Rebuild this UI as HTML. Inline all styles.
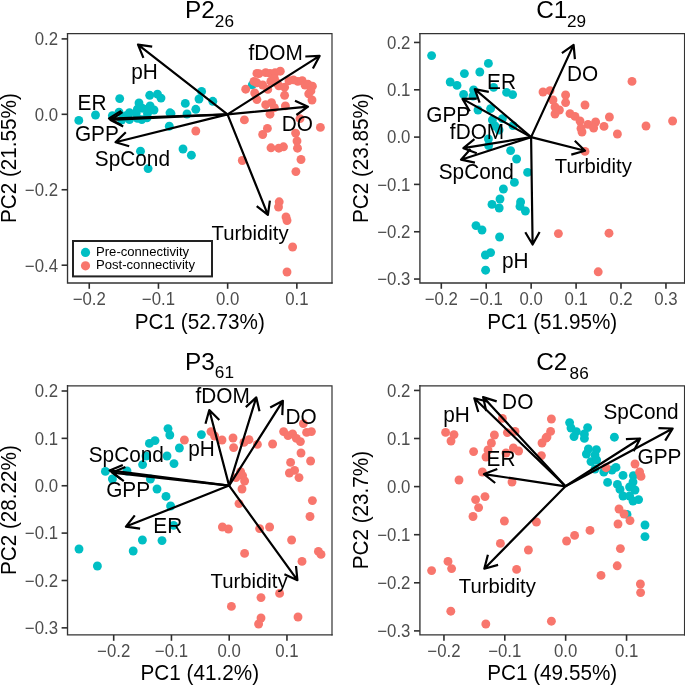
<!DOCTYPE html>
<html><head><meta charset="utf-8"><title>PCA biplots</title>
<style>
html,body{margin:0;padding:0;background:#fff;}
svg{display:block;}
text{font-family:'Liberation Sans', Arial, Helvetica, sans-serif;}
.tk{font-size:16.8px;fill:#4D4D4D;}
.ax{font-size:20.7px;fill:#000;}
.lb{font-size:20.8px;fill:#000;text-anchor:middle;}
.tt{font-size:24.4px;fill:#000;}
.lg{font-size:13.1px;fill:#000;}
</style></head><body>
<svg width="685" height="685" viewBox="0 0 685 685">
<rect width="685" height="685" fill="#fff"/>
<g id="p1">
<clipPath id="cp1"><rect x="67.53" y="33.55" width="264.47" height="249.39999999999998"/></clipPath>
<g clip-path="url(#cp1)">
<g fill="#00BFC4"><circle cx="78.8" cy="120.4" r="4.45"/><circle cx="95.5" cy="115.0" r="4.45"/><circle cx="119.7" cy="98.6" r="4.45"/><circle cx="149.7" cy="95.3" r="4.45"/><circle cx="157.5" cy="94.2" r="4.45"/><circle cx="161.0" cy="98.1" r="4.45"/><circle cx="139.0" cy="103.0" r="4.45"/><circle cx="150.1" cy="106.0" r="4.45"/><circle cx="154.0" cy="110.0" r="4.45"/><circle cx="147.0" cy="109.3" r="4.45"/><circle cx="142.2" cy="108.2" r="4.45"/><circle cx="137.4" cy="109.1" r="4.45"/><circle cx="129.5" cy="112.6" r="4.45"/><circle cx="136.1" cy="113.2" r="4.45"/><circle cx="147.5" cy="113.5" r="4.45"/><circle cx="119.0" cy="112.1" r="4.45"/><circle cx="112.4" cy="115.6" r="4.45"/><circle cx="121.6" cy="120.0" r="4.45"/><circle cx="129.5" cy="119.6" r="4.45"/><circle cx="137.4" cy="118.3" r="4.45"/><circle cx="141.8" cy="119.6" r="4.45"/><circle cx="147.0" cy="117.8" r="4.45"/><circle cx="126.0" cy="115.6" r="4.45"/><circle cx="170.0" cy="112.8" r="4.45"/><circle cx="169.3" cy="126.2" r="4.45"/><circle cx="140.5" cy="151.2" r="4.45"/><circle cx="148.1" cy="168.6" r="4.45"/><circle cx="201.6" cy="91.4" r="4.45"/><circle cx="199.0" cy="99.0" r="4.45"/><circle cx="212.8" cy="101.3" r="4.45"/><circle cx="185.3" cy="103.4" r="4.45"/><circle cx="195.8" cy="109.3" r="4.45"/><circle cx="187.0" cy="114.0" r="4.45"/><circle cx="171.0" cy="113.6" r="4.45"/><circle cx="183.0" cy="149.0" r="4.45"/><circle cx="191.4" cy="155.2" r="4.45"/><circle cx="252.3" cy="84.8" r="4.45"/></g>
<g fill="#F8766D"><circle cx="297.8" cy="81.4" r="4.45"/><circle cx="277.0" cy="83.0" r="4.45"/><circle cx="195.8" cy="131.0" r="4.45"/><circle cx="244.4" cy="119.9" r="4.45"/><circle cx="245.7" cy="89.2" r="4.45"/><circle cx="242.3" cy="160.5" r="4.45"/><circle cx="256.9" cy="73.4" r="4.45"/><circle cx="259.0" cy="73.6" r="4.45"/><circle cx="265.7" cy="72.6" r="4.45"/><circle cx="270.0" cy="73.4" r="4.45"/><circle cx="275.1" cy="72.6" r="4.45"/><circle cx="280.3" cy="71.2" r="4.45"/><circle cx="254.0" cy="81.4" r="4.45"/><circle cx="256.9" cy="82.8" r="4.45"/><circle cx="262.7" cy="85.0" r="4.45"/><circle cx="254.7" cy="93.0" r="4.45"/><circle cx="256.9" cy="99.6" r="4.45"/><circle cx="267.8" cy="89.4" r="4.45"/><circle cx="270.8" cy="81.4" r="4.45"/><circle cx="274.4" cy="78.5" r="4.45"/><circle cx="278.8" cy="85.8" r="4.45"/><circle cx="284.6" cy="87.2" r="4.45"/><circle cx="284.6" cy="95.3" r="4.45"/><circle cx="289.0" cy="80.7" r="4.45"/><circle cx="293.4" cy="79.9" r="4.45"/><circle cx="302.2" cy="80.7" r="4.45"/><circle cx="305.0" cy="85.0" r="4.45"/><circle cx="308.0" cy="84.3" r="4.45"/><circle cx="312.4" cy="86.2" r="4.45"/><circle cx="310.9" cy="90.9" r="4.45"/><circle cx="308.7" cy="93.8" r="4.45"/><circle cx="312.0" cy="100.0" r="4.45"/><circle cx="265.7" cy="104.7" r="4.45"/><circle cx="271.5" cy="102.6" r="4.45"/><circle cx="274.4" cy="107.7" r="4.45"/><circle cx="285.4" cy="105.9" r="4.45"/><circle cx="270.0" cy="114.2" r="4.45"/><circle cx="300.0" cy="118.6" r="4.45"/><circle cx="320.4" cy="127.4" r="4.45"/><circle cx="267.4" cy="128.4" r="4.45"/><circle cx="262.7" cy="134.5" r="4.45"/><circle cx="295.6" cy="133.1" r="4.45"/><circle cx="297.0" cy="141.0" r="4.45"/><circle cx="297.5" cy="148.2" r="4.45"/><circle cx="271.0" cy="147.8" r="4.45"/><circle cx="278.8" cy="148.2" r="4.45"/><circle cx="283.5" cy="146.8" r="4.45"/><circle cx="301.0" cy="159.5" r="4.45"/><circle cx="295.9" cy="171.6" r="4.45"/><circle cx="279.2" cy="201.8" r="4.45"/><circle cx="278.5" cy="207.0" r="4.45"/><circle cx="286.0" cy="216.9" r="4.45"/><circle cx="287.0" cy="220.5" r="4.45"/><circle cx="292.6" cy="247.0" r="4.45"/><circle cx="287.0" cy="272.0" r="4.45"/></g>
<g fill="none" stroke="#000" stroke-width="2.2" stroke-linejoin="round"><path d="M227.5 114.4L138.0 44.6M143.4 57.9L138.0 44.6L152.2 46.6"/><path d="M227.5 114.4L109.0 118.5M121.6 125.2L109.0 118.5L121.1 110.9"/><path d="M227.5 114.4L110.5 120.0M123.2 126.5L110.5 120.0L122.5 112.2"/><path d="M227.5 114.4L115.5 142.3M129.2 146.2L115.5 142.3L125.8 132.3"/><path d="M227.5 114.4L319.6 55.9M305.3 56.5L319.6 55.9L312.9 68.6"/><path d="M227.5 114.4L308.0 106.7M295.0 100.8L308.0 106.7L296.4 115.0"/><path d="M227.5 114.4L267.9 214.9M269.9 200.7L267.9 214.9L256.7 206.1"/></g>
<text class="lb" transform="translate(144.5 78.5) scale(1 1.03)">pH</text><text class="lb" transform="translate(92.0 109.8) scale(1 1.03)">ER</text><text class="lb" transform="translate(96.9 140.8) scale(1 1.03)">GPP</text><text class="lb" transform="translate(132.4 165.6) scale(1 1.03)">SpCond</text><text class="lb" transform="translate(275.6 60.3) scale(1 1.03)">fDOM</text><text class="lb" transform="translate(297.4 130.8) scale(1 1.03)">DO</text><text class="lb" style="font-size:20.3px" transform="translate(250.0 239.5) scale(1 1.03)">Turbidity</text>
</g>
<rect x="73" y="241" width="139" height="35.4" fill="#fff" stroke="#222" stroke-width="2.0"/><circle cx="85.5" cy="252.4" r="4.6" fill="#00BFC4"/><circle cx="85.5" cy="265.8" r="4.6" fill="#F8766D"/><text class="lg" transform="translate(96 255.8) scale(1 1.04)">Pre-connectivity</text><text class="lg" transform="translate(96 269.3) scale(1 1.04)">Post-connectivity</text>
<path d="M67.53 33.55L332.0 33.55L332.0 282.95" fill="none" stroke="#333" stroke-width="1.2" stroke-linejoin="miter" stroke-linecap="square"/>
<path d="M67.53 33.55L67.53 282.95L332.0 282.95" fill="none" stroke="#333" stroke-width="1.35" stroke-linejoin="miter" stroke-linecap="square"/>
<g stroke="#2e2e2e" stroke-width="1.6"><line x1="89.25" y1="282.95" x2="89.25" y2="288.8"/><line x1="158.45" y1="282.95" x2="158.45" y2="288.8"/><line x1="227.65" y1="282.95" x2="227.65" y2="288.8"/><line x1="296.85" y1="282.95" x2="296.85" y2="288.8"/><line x1="61.6" y1="38.90" x2="67.53" y2="38.90"/><line x1="61.6" y1="114.30" x2="67.53" y2="114.30"/><line x1="61.6" y1="189.75" x2="67.53" y2="189.75"/><line x1="61.6" y1="265.20" x2="67.53" y2="265.20"/></g>
<text class="tk" text-anchor="middle" transform="translate(89.25 305.2) scale(1 1.05)">−0.2</text><text class="tk" text-anchor="middle" transform="translate(158.45 305.2) scale(1 1.05)">−0.1</text><text class="tk" text-anchor="middle" transform="translate(227.65 305.2) scale(1 1.05)">0.0</text><text class="tk" text-anchor="middle" transform="translate(296.85 305.2) scale(1 1.05)">0.1</text>
<text class="tk" text-anchor="end" transform="translate(58.0 45.2) scale(1 1.05)">0.2</text><text class="tk" text-anchor="end" transform="translate(58.0 120.6) scale(1 1.05)">0.0</text><text class="tk" text-anchor="end" transform="translate(58.0 196.1) scale(1 1.05)">−0.2</text><text class="tk" text-anchor="end" transform="translate(58.0 271.5) scale(1 1.05)">−0.4</text>
<text class="ax" text-anchor="middle" transform="translate(199.8 328.5) scale(1 1.065)">PC1 (52.73%)</text>
<text class="ax" text-anchor="middle" transform="translate(15.9 158.1) rotate(-90) scale(1 1.065)">PC2 (21.55%)</text>
<text class="tt" transform="translate(185.0 18.3) scale(1 0.965)">P2<tspan style="font-size:17.2px" dx="0" dy="9.2">26</tspan></text>
</g>
<g id="p2">
<clipPath id="cp2"><rect x="419.92" y="33.55" width="264.62999999999994" height="249.39999999999998"/></clipPath>
<g clip-path="url(#cp2)">
<g fill="#00BFC4"><circle cx="431.6" cy="55.6" r="4.45"/><circle cx="488.4" cy="63.4" r="4.45"/><circle cx="464.4" cy="73.6" r="4.45"/><circle cx="479.8" cy="72.0" r="4.45"/><circle cx="450.2" cy="82.0" r="4.45"/><circle cx="457.0" cy="85.4" r="4.45"/><circle cx="493.6" cy="87.4" r="4.45"/><circle cx="506.6" cy="92.4" r="4.45"/><circle cx="512.6" cy="94.6" r="4.45"/><circle cx="473.6" cy="90.0" r="4.45"/><circle cx="463.6" cy="94.4" r="4.45"/><circle cx="473.0" cy="96.0" r="4.45"/><circle cx="478.0" cy="110.0" r="4.45"/><circle cx="490.6" cy="108.6" r="4.45"/><circle cx="502.4" cy="118.6" r="4.45"/><circle cx="492.4" cy="120.0" r="4.45"/><circle cx="495.0" cy="126.0" r="4.45"/><circle cx="499.0" cy="130.0" r="4.45"/><circle cx="513.0" cy="125.6" r="4.45"/><circle cx="488.4" cy="139.0" r="4.45"/><circle cx="488.6" cy="145.6" r="4.45"/><circle cx="510.6" cy="150.6" r="4.45"/><circle cx="516.6" cy="159.0" r="4.45"/><circle cx="527.6" cy="172.4" r="4.45"/><circle cx="514.4" cy="182.4" r="4.45"/><circle cx="503.4" cy="189.0" r="4.45"/><circle cx="500.0" cy="199.0" r="4.45"/><circle cx="492.0" cy="204.4" r="4.45"/><circle cx="499.2" cy="208.0" r="4.45"/><circle cx="520.6" cy="202.0" r="4.45"/><circle cx="520.0" cy="206.4" r="4.45"/><circle cx="525.4" cy="211.0" r="4.45"/><circle cx="476.0" cy="225.6" r="4.45"/><circle cx="482.0" cy="230.0" r="4.45"/><circle cx="499.6" cy="237.0" r="4.45"/><circle cx="490.6" cy="252.6" r="4.45"/><circle cx="485.4" cy="255.0" r="4.45"/><circle cx="485.6" cy="270.2" r="4.45"/></g>
<g fill="#F8766D"><circle cx="543.0" cy="92.0" r="4.45"/><circle cx="632.0" cy="81.4" r="4.45"/><circle cx="550.0" cy="90.6" r="4.45"/><circle cx="565.6" cy="95.0" r="4.45"/><circle cx="553.0" cy="100.0" r="4.45"/><circle cx="565.6" cy="102.6" r="4.45"/><circle cx="585.0" cy="105.0" r="4.45"/><circle cx="555.0" cy="107.0" r="4.45"/><circle cx="559.4" cy="110.0" r="4.45"/><circle cx="555.0" cy="114.0" r="4.45"/><circle cx="570.0" cy="113.6" r="4.45"/><circle cx="575.0" cy="116.4" r="4.45"/><circle cx="580.0" cy="121.0" r="4.45"/><circle cx="609.4" cy="117.0" r="4.45"/><circle cx="595.6" cy="122.0" r="4.45"/><circle cx="588.0" cy="124.4" r="4.45"/><circle cx="604.0" cy="126.4" r="4.45"/><circle cx="593.6" cy="128.0" r="4.45"/><circle cx="581.0" cy="128.4" r="4.45"/><circle cx="582.0" cy="132.0" r="4.45"/><circle cx="617.4" cy="134.0" r="4.45"/><circle cx="646.0" cy="126.0" r="4.45"/><circle cx="672.6" cy="121.0" r="4.45"/><circle cx="585.0" cy="151.4" r="4.45"/><circle cx="558.4" cy="233.6" r="4.45"/><circle cx="609.0" cy="233.2" r="4.45"/><circle cx="598.2" cy="271.8" r="4.45"/></g>
<g fill="none" stroke="#000" stroke-width="2.2" stroke-linejoin="round"><path d="M531.1 137.1L474.8 89.2M479.6 102.7L474.8 89.2L488.8 91.8"/><path d="M531.1 137.1L462.5 98.9M469.8 111.2L462.5 98.9L476.8 98.7"/><path d="M531.1 137.1L463.4 148.2M476.8 153.3L463.4 148.2L474.4 139.2"/><path d="M531.1 137.1L461.0 159.7M474.9 162.7L461.0 159.7L470.5 149.1"/><path d="M531.1 137.1L573.6 44.9M561.9 53.2L573.6 44.9L574.9 59.1"/><path d="M531.1 137.1L585.0 150.8M574.8 140.8L585.0 150.8L571.3 154.6"/><path d="M531.1 137.1L532.6 244.5M539.6 232.0L532.6 244.5L525.3 232.2"/></g>
<text class="lb" transform="translate(501.5 88.5) scale(1 1.03)">ER</text><text class="lb" transform="translate(448.2 121.9) scale(1 1.03)">GPP</text><text class="lb" transform="translate(477.0 138.5) scale(1 1.03)">fDOM</text><text class="lb" transform="translate(476.3 178.5) scale(1 1.03)">SpCond</text><text class="lb" transform="translate(582.5 80.9) scale(1 1.03)">DO</text><text class="lb" style="font-size:20.3px" transform="translate(593.3 172.5) scale(1 1.03)">Turbidity</text><text class="lb" transform="translate(515.3 267.5) scale(1 1.03)">pH</text>
</g>
<path d="M419.92 33.55L684.55 33.55L684.55 282.95" fill="none" stroke="#333" stroke-width="1.2" stroke-linejoin="miter" stroke-linecap="square"/>
<path d="M419.92 33.55L419.92 282.95L684.55 282.95" fill="none" stroke="#333" stroke-width="1.35" stroke-linejoin="miter" stroke-linecap="square"/>
<g stroke="#2e2e2e" stroke-width="1.6"><line x1="441.3" y1="282.95" x2="441.3" y2="288.8"/><line x1="486.2" y1="282.95" x2="486.2" y2="288.8"/><line x1="531.15" y1="282.95" x2="531.15" y2="288.8"/><line x1="576.1" y1="282.95" x2="576.1" y2="288.8"/><line x1="621.0" y1="282.95" x2="621.0" y2="288.8"/><line x1="665.95" y1="282.95" x2="665.95" y2="288.8"/><line x1="414.0" y1="42.45" x2="419.92" y2="42.45"/><line x1="414.0" y1="89.80" x2="419.92" y2="89.80"/><line x1="414.0" y1="137.10" x2="419.92" y2="137.10"/><line x1="414.0" y1="184.40" x2="419.92" y2="184.40"/><line x1="414.0" y1="231.75" x2="419.92" y2="231.75"/><line x1="414.0" y1="279.05" x2="419.92" y2="279.05"/></g>
<text class="tk" text-anchor="middle" transform="translate(441.3 305.2) scale(1 1.05)">−0.2</text><text class="tk" text-anchor="middle" transform="translate(486.2 305.2) scale(1 1.05)">−0.1</text><text class="tk" text-anchor="middle" transform="translate(531.15 305.2) scale(1 1.05)">0.0</text><text class="tk" text-anchor="middle" transform="translate(576.1 305.2) scale(1 1.05)">0.1</text><text class="tk" text-anchor="middle" transform="translate(621.0 305.2) scale(1 1.05)">0.2</text><text class="tk" text-anchor="middle" transform="translate(665.95 305.2) scale(1 1.05)">0.3</text>
<text class="tk" text-anchor="end" transform="translate(410.4 48.8) scale(1 1.05)">0.2</text><text class="tk" text-anchor="end" transform="translate(410.4 96.1) scale(1 1.05)">0.1</text><text class="tk" text-anchor="end" transform="translate(410.4 143.4) scale(1 1.05)">0.0</text><text class="tk" text-anchor="end" transform="translate(410.4 190.7) scale(1 1.05)">−0.1</text><text class="tk" text-anchor="end" transform="translate(410.4 238.1) scale(1 1.05)">−0.2</text><text class="tk" text-anchor="end" transform="translate(410.4 285.4) scale(1 1.05)">−0.3</text>
<text class="ax" text-anchor="middle" transform="translate(552.2 328.5) scale(1 1.065)">PC1 (51.95%)</text>
<text class="ax" text-anchor="middle" transform="translate(368.3 158.1) rotate(-90) scale(1 1.065)">PC2 (23.85%)</text>
<text class="tt" transform="translate(536.2 18.3) scale(1 0.965)">C1<tspan style="font-size:17.2px" dx="-0.4" dy="9.2">29</tspan></text>
</g>
<g id="p3">
<clipPath id="cp3"><rect x="67.53" y="385.78" width="264.47" height="249.12"/></clipPath>
<g clip-path="url(#cp3)">
<g fill="#00BFC4"><circle cx="105.4" cy="471.4" r="4.45"/><circle cx="112.4" cy="479.0" r="4.45"/><circle cx="127.0" cy="471.0" r="4.45"/><circle cx="142.6" cy="464.6" r="4.45"/><circle cx="150.4" cy="479.0" r="4.45"/><circle cx="149.4" cy="443.4" r="4.45"/><circle cx="155.0" cy="440.6" r="4.45"/><circle cx="168.0" cy="428.6" r="4.45"/><circle cx="169.8" cy="435.0" r="4.45"/><circle cx="179.4" cy="448.0" r="4.45"/><circle cx="167.0" cy="456.0" r="4.45"/><circle cx="174.0" cy="463.6" r="4.45"/><circle cx="157.0" cy="489.0" r="4.45"/><circle cx="166.0" cy="496.4" r="4.45"/><circle cx="170.6" cy="506.0" r="4.45"/><circle cx="146.0" cy="456.0" r="4.45"/><circle cx="201.4" cy="434.6" r="4.45"/><circle cx="79.0" cy="549.0" r="4.45"/><circle cx="97.4" cy="566.0" r="4.45"/><circle cx="133.2" cy="551.0" r="4.45"/><circle cx="142.4" cy="540.0" r="4.45"/><circle cx="162.0" cy="540.6" r="4.45"/><circle cx="173.6" cy="525.4" r="4.45"/></g>
<g fill="#F8766D"><circle cx="184.4" cy="440.0" r="4.45"/><circle cx="211.0" cy="431.6" r="4.45"/><circle cx="214.6" cy="436.0" r="4.45"/><circle cx="222.0" cy="440.0" r="4.45"/><circle cx="233.0" cy="438.0" r="4.45"/><circle cx="233.6" cy="447.6" r="4.45"/><circle cx="244.0" cy="442.4" r="4.45"/><circle cx="249.0" cy="439.6" r="4.45"/><circle cx="257.4" cy="444.4" r="4.45"/><circle cx="272.6" cy="444.0" r="4.45"/><circle cx="283.6" cy="431.6" r="4.45"/><circle cx="288.0" cy="435.6" r="4.45"/><circle cx="292.6" cy="434.0" r="4.45"/><circle cx="296.4" cy="438.4" r="4.45"/><circle cx="300.4" cy="441.6" r="4.45"/><circle cx="303.4" cy="423.6" r="4.45"/><circle cx="306.6" cy="432.4" r="4.45"/><circle cx="311.4" cy="431.6" r="4.45"/><circle cx="301.0" cy="453.0" r="4.45"/><circle cx="310.6" cy="461.0" r="4.45"/><circle cx="290.6" cy="462.4" r="4.45"/><circle cx="289.4" cy="473.0" r="4.45"/><circle cx="294.6" cy="470.4" r="4.45"/><circle cx="299.0" cy="477.6" r="4.45"/><circle cx="240.6" cy="471.6" r="4.45"/><circle cx="242.6" cy="475.6" r="4.45"/><circle cx="236.0" cy="477.6" r="4.45"/><circle cx="244.6" cy="481.0" r="4.45"/><circle cx="242.0" cy="489.0" r="4.45"/><circle cx="239.0" cy="503.6" r="4.45"/><circle cx="312.4" cy="500.6" r="4.45"/><circle cx="310.0" cy="516.5" r="4.45"/><circle cx="222.4" cy="527.0" r="4.45"/><circle cx="228.4" cy="529.0" r="4.45"/><circle cx="259.6" cy="528.6" r="4.45"/><circle cx="269.6" cy="527.0" r="4.45"/><circle cx="291.6" cy="540.0" r="4.45"/><circle cx="244.6" cy="553.4" r="4.45"/><circle cx="318.4" cy="551.4" r="4.45"/><circle cx="321.0" cy="554.4" r="4.45"/><circle cx="302.0" cy="561.4" r="4.45"/><circle cx="279.6" cy="593.4" r="4.45"/><circle cx="261.0" cy="597.6" r="4.45"/><circle cx="231.4" cy="606.4" r="4.45"/><circle cx="261.0" cy="618.0" r="4.45"/><circle cx="258.6" cy="624.0" r="4.45"/><circle cx="298.0" cy="617.0" r="4.45"/></g>
<g fill="none" stroke="#000" stroke-width="2.2" stroke-linejoin="round"><path d="M229.1 485.6L209.3 410.0M205.5 423.8L209.3 410.0L219.3 420.1"/><path d="M229.1 485.6L256.3 397.4M245.8 407.1L256.3 397.4L259.5 411.3"/><path d="M229.1 485.6L282.9 400.8M270.2 407.5L282.9 400.8L282.3 415.1"/><path d="M229.1 485.6L109.6 470.4M121.0 479.1L109.6 470.4L122.8 464.9"/><path d="M229.1 485.6L112.3 472.6M123.8 481.1L112.3 472.6L125.4 466.9"/><path d="M229.1 485.6L125.9 526.6M140.1 528.7L125.9 526.6L134.8 515.4"/><path d="M229.1 485.6L297.4 580.2M296.0 566.0L297.4 580.2L284.4 574.3"/></g>
<text class="lb" transform="translate(222.6 402.5) scale(1 1.03)">fDOM</text><text class="lb" transform="translate(301.0 424.1) scale(1 1.03)">DO</text><text class="lb" transform="translate(201.5 456.1) scale(1 1.03)">pH</text><text class="lb" transform="translate(126.3 462.1) scale(1 1.03)">SpCond</text><text class="lb" transform="translate(128.1 496.5) scale(1 1.03)">GPP</text><text class="lb" transform="translate(167.7 533.1) scale(1 1.03)">ER</text><text class="lb" style="font-size:20.3px" transform="translate(249.0 588.1) scale(1 1.03)">Turbidity</text>
</g>
<path d="M67.53 385.78L332.0 385.78L332.0 634.9" fill="none" stroke="#333" stroke-width="1.2" stroke-linejoin="miter" stroke-linecap="square"/>
<path d="M67.53 385.78L67.53 634.9L332.0 634.9" fill="none" stroke="#333" stroke-width="1.35" stroke-linejoin="miter" stroke-linecap="square"/>
<g stroke="#2e2e2e" stroke-width="1.6"><line x1="113.7" y1="634.9" x2="113.7" y2="640.8"/><line x1="171.45" y1="634.9" x2="171.45" y2="640.8"/><line x1="229.2" y1="634.9" x2="229.2" y2="640.8"/><line x1="286.95" y1="634.9" x2="286.95" y2="640.8"/><line x1="61.6" y1="391.00" x2="67.53" y2="391.00"/><line x1="61.6" y1="438.35" x2="67.53" y2="438.35"/><line x1="61.6" y1="485.75" x2="67.53" y2="485.75"/><line x1="61.6" y1="533.10" x2="67.53" y2="533.10"/><line x1="61.6" y1="580.50" x2="67.53" y2="580.50"/><line x1="61.6" y1="627.85" x2="67.53" y2="627.85"/></g>
<text class="tk" text-anchor="middle" transform="translate(113.7 657.1) scale(1 1.05)">−0.2</text><text class="tk" text-anchor="middle" transform="translate(171.45 657.1) scale(1 1.05)">−0.1</text><text class="tk" text-anchor="middle" transform="translate(229.2 657.1) scale(1 1.05)">0.0</text><text class="tk" text-anchor="middle" transform="translate(286.95 657.1) scale(1 1.05)">0.1</text>
<text class="tk" text-anchor="end" transform="translate(58.0 397.3) scale(1 1.05)">0.2</text><text class="tk" text-anchor="end" transform="translate(58.0 444.7) scale(1 1.05)">0.1</text><text class="tk" text-anchor="end" transform="translate(58.0 492.1) scale(1 1.05)">0.0</text><text class="tk" text-anchor="end" transform="translate(58.0 539.4) scale(1 1.05)">−0.1</text><text class="tk" text-anchor="end" transform="translate(58.0 586.8) scale(1 1.05)">−0.2</text><text class="tk" text-anchor="end" transform="translate(58.0 634.1) scale(1 1.05)">−0.3</text>
<text class="ax" text-anchor="middle" transform="translate(199.8 680.4) scale(1 1.065)">PC1 (41.2%)</text>
<text class="ax" text-anchor="middle" transform="translate(15.9 510.1) rotate(-90) scale(1 1.065)">PC2 (28.22%)</text>
<text class="tt" transform="translate(185.0 369.5) scale(1 0.965)">P3<tspan style="font-size:17.2px" dx="0" dy="9.2">61</tspan></text>
</g>
<g id="p4">
<clipPath id="cp4"><rect x="419.92" y="385.78" width="264.62999999999994" height="249.12"/></clipPath>
<g clip-path="url(#cp4)">
<g fill="#00BFC4"><circle cx="569.6" cy="422.6" r="4.45"/><circle cx="571.0" cy="428.0" r="4.45"/><circle cx="576.4" cy="431.6" r="4.45"/><circle cx="587.6" cy="427.6" r="4.45"/><circle cx="574.0" cy="436.6" r="4.45"/><circle cx="584.4" cy="434.0" r="4.45"/><circle cx="584.4" cy="438.4" r="4.45"/><circle cx="614.4" cy="437.2" r="4.45"/><circle cx="588.4" cy="449.0" r="4.45"/><circle cx="596.4" cy="449.6" r="4.45"/><circle cx="586.4" cy="454.0" r="4.45"/><circle cx="595.0" cy="455.0" r="4.45"/><circle cx="591.0" cy="461.6" r="4.45"/><circle cx="596.6" cy="460.0" r="4.45"/><circle cx="595.0" cy="469.0" r="4.45"/><circle cx="603.8" cy="472.0" r="4.45"/><circle cx="612.0" cy="470.0" r="4.45"/><circle cx="616.0" cy="467.4" r="4.45"/><circle cx="623.0" cy="475.4" r="4.45"/><circle cx="607.6" cy="482.4" r="4.45"/><circle cx="633.4" cy="475.6" r="4.45"/><circle cx="617.4" cy="484.4" r="4.45"/><circle cx="633.0" cy="482.0" r="4.45"/><circle cx="620.0" cy="489.4" r="4.45"/><circle cx="629.6" cy="487.0" r="4.45"/><circle cx="635.0" cy="490.0" r="4.45"/><circle cx="623.0" cy="496.0" r="4.45"/><circle cx="629.6" cy="496.0" r="4.45"/><circle cx="633.0" cy="501.0" r="4.45"/><circle cx="638.6" cy="499.6" r="4.45"/><circle cx="627.0" cy="514.4" r="4.45"/><circle cx="645.0" cy="525.0" r="4.45"/><circle cx="645.0" cy="536.6" r="4.45"/></g>
<g fill="#F8766D"><circle cx="445.6" cy="432.4" r="4.45"/><circle cx="454.0" cy="434.6" r="4.45"/><circle cx="451.0" cy="441.0" r="4.45"/><circle cx="502.4" cy="418.4" r="4.45"/><circle cx="494.4" cy="435.0" r="4.45"/><circle cx="507.4" cy="432.6" r="4.45"/><circle cx="515.0" cy="431.4" r="4.45"/><circle cx="491.4" cy="443.0" r="4.45"/><circle cx="473.6" cy="451.6" r="4.45"/><circle cx="488.0" cy="450.0" r="4.45"/><circle cx="486.0" cy="457.0" r="4.45"/><circle cx="513.4" cy="448.0" r="4.45"/><circle cx="518.6" cy="451.0" r="4.45"/><circle cx="506.0" cy="453.0" r="4.45"/><circle cx="542.0" cy="443.0" r="4.45"/><circle cx="546.0" cy="438.0" r="4.45"/><circle cx="541.4" cy="455.6" r="4.45"/><circle cx="482.4" cy="472.0" r="4.45"/><circle cx="459.0" cy="480.0" r="4.45"/><circle cx="512.0" cy="482.0" r="4.45"/><circle cx="485.0" cy="496.6" r="4.45"/><circle cx="475.6" cy="499.6" r="4.45"/><circle cx="478.6" cy="507.6" r="4.45"/><circle cx="473.0" cy="516.5" r="4.45"/><circle cx="551.4" cy="419.0" r="4.45"/><circle cx="550.6" cy="431.4" r="4.45"/><circle cx="547.0" cy="437.0" r="4.45"/><circle cx="635.0" cy="464.0" r="4.45"/><circle cx="639.6" cy="472.0" r="4.45"/><circle cx="641.0" cy="476.4" r="4.45"/><circle cx="606.0" cy="467.7" r="4.45"/><circle cx="619.0" cy="509.0" r="4.45"/><circle cx="624.0" cy="514.0" r="4.45"/><circle cx="504.4" cy="521.0" r="4.45"/><circle cx="536.4" cy="522.0" r="4.45"/><circle cx="500.4" cy="543.4" r="4.45"/><circle cx="528.4" cy="550.0" r="4.45"/><circle cx="448.0" cy="561.4" r="4.45"/><circle cx="451.6" cy="568.6" r="4.45"/><circle cx="431.6" cy="570.6" r="4.45"/><circle cx="516.6" cy="569.4" r="4.45"/><circle cx="450.8" cy="611.2" r="4.45"/><circle cx="485.8" cy="624.0" r="4.45"/><circle cx="618.0" cy="524.0" r="4.45"/><circle cx="630.0" cy="520.6" r="4.45"/><circle cx="590.0" cy="530.4" r="4.45"/><circle cx="574.6" cy="535.4" r="4.45"/><circle cx="566.6" cy="541.0" r="4.45"/><circle cx="620.4" cy="548.6" r="4.45"/><circle cx="617.2" cy="565.8" r="4.45"/><circle cx="601.0" cy="575.4" r="4.45"/><circle cx="640.4" cy="584.0" r="4.45"/><circle cx="640.6" cy="592.6" r="4.45"/><circle cx="551.4" cy="621.2" r="4.45"/></g>
<g fill="none" stroke="#000" stroke-width="2.2" stroke-linejoin="round"><path d="M565.5 486.3L474.3 398.3M478.3 412.0L474.3 398.3L488.2 401.8"/><path d="M565.5 486.3L483.1 397.1M486.2 411.1L483.1 397.1L496.7 401.4"/><path d="M565.5 486.3L484.0 474.1M495.2 483.0L484.0 474.1L497.3 468.9"/><path d="M565.5 486.3L672.7 428.5M658.4 428.1L672.7 428.5L665.2 440.6"/><path d="M565.5 486.3L640.2 438.5M625.9 439.2L640.2 438.5L633.6 451.2"/><path d="M565.5 486.3L484.3 568.7M498.1 564.9L484.3 568.7L487.9 554.8"/></g>
<text class="lb" transform="translate(456.5 421.5) scale(1 1.03)">pH</text><text class="lb" transform="translate(517.7 409.1) scale(1 1.03)">DO</text><text class="lb" transform="translate(501.0 466.1) scale(1 1.03)">ER</text><text class="lb" transform="translate(641.0 419.1) scale(1 1.03)">SpCond</text><text class="lb" transform="translate(659.5 464.1) scale(1 1.03)">GPP</text><text class="lb" style="font-size:20.3px" transform="translate(497.3 593.1) scale(1 1.03)">Turbidity</text>
</g>
<path d="M419.92 385.78L684.55 385.78L684.55 634.9" fill="none" stroke="#333" stroke-width="1.2" stroke-linejoin="miter" stroke-linecap="square"/>
<path d="M419.92 385.78L419.92 634.9L684.55 634.9" fill="none" stroke="#333" stroke-width="1.35" stroke-linejoin="miter" stroke-linecap="square"/>
<g stroke="#2e2e2e" stroke-width="1.6"><line x1="443.95" y1="634.9" x2="443.95" y2="640.8"/><line x1="504.8" y1="634.9" x2="504.8" y2="640.8"/><line x1="565.65" y1="634.9" x2="565.65" y2="640.8"/><line x1="626.55" y1="634.9" x2="626.55" y2="640.8"/><line x1="414.0" y1="390.45" x2="419.92" y2="390.45"/><line x1="414.0" y1="438.50" x2="419.92" y2="438.50"/><line x1="414.0" y1="486.60" x2="419.92" y2="486.60"/><line x1="414.0" y1="534.70" x2="419.92" y2="534.70"/><line x1="414.0" y1="582.80" x2="419.92" y2="582.80"/><line x1="414.0" y1="630.90" x2="419.92" y2="630.90"/></g>
<text class="tk" text-anchor="middle" transform="translate(443.95 657.1) scale(1 1.05)">−0.2</text><text class="tk" text-anchor="middle" transform="translate(504.8 657.1) scale(1 1.05)">−0.1</text><text class="tk" text-anchor="middle" transform="translate(565.65 657.1) scale(1 1.05)">0.0</text><text class="tk" text-anchor="middle" transform="translate(626.55 657.1) scale(1 1.05)">0.1</text>
<text class="tk" text-anchor="end" transform="translate(410.4 396.8) scale(1 1.05)">0.2</text><text class="tk" text-anchor="end" transform="translate(410.4 444.8) scale(1 1.05)">0.1</text><text class="tk" text-anchor="end" transform="translate(410.4 492.9) scale(1 1.05)">0.0</text><text class="tk" text-anchor="end" transform="translate(410.4 541.0) scale(1 1.05)">−0.1</text><text class="tk" text-anchor="end" transform="translate(410.4 589.1) scale(1 1.05)">−0.2</text><text class="tk" text-anchor="end" transform="translate(410.4 637.2) scale(1 1.05)">−0.3</text>
<text class="ax" text-anchor="middle" transform="translate(552.2 680.4) scale(1 1.065)">PC1 (49.55%)</text>
<text class="ax" text-anchor="middle" transform="translate(368.3 510.1) rotate(-90) scale(1 1.065)">PC2 (23.7%)</text>
<text class="tt" transform="translate(536.2 369.7) scale(1 0.965)">C2<tspan style="font-size:17.2px" dx="2.2" dy="9.2">86</tspan></text>
</g>
</svg>
</body></html>
